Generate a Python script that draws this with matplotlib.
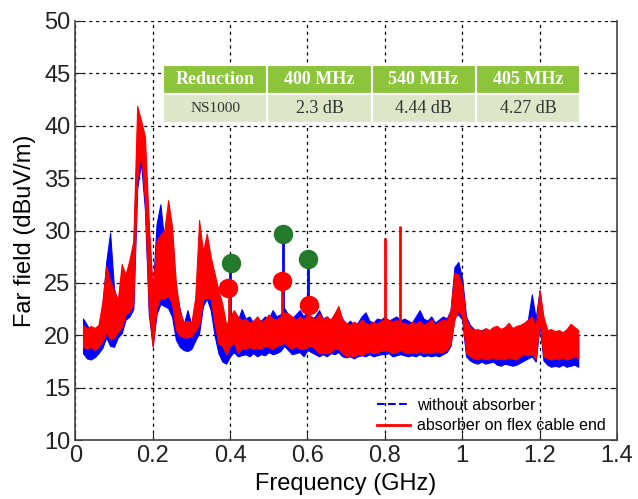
import numpy as np
import matplotlib
matplotlib.use('Agg')
import matplotlib.pyplot as plt
from matplotlib.lines import Line2D

plt.rcParams['font.family'] = ['Liberation Sans', 'DejaVu Sans']

# frequency grid (GHz) and envelopes (dBuV/m)
freq = np.round(np.arange(0.02, 1.3001, 0.01), 2)

red_lo = [18.9, 18.7, 18.9, 18.6, 18.9, 19.4, 20.3, 19.6, 19.8, 20.3,
          20.8, 22.0, 22.3, 23.0, 35.0, 37.4, 32.8, 22.6, 18.9, 22.6,
          23.6, 23.5, 23.8, 23.0, 20.5, 20.0, 19.8, 19.8, 19.9, 20.4,
          21.0, 23.4, 23.6, 23.5, 21.1, 19.2, 19.0, 18.2, 19.0, 19.3,
          18.3, 18.7, 18.7, 18.9, 18.7, 18.8, 18.7, 19.0, 18.9, 18.7,
          19.0, 19.1, 19.3, 19.0, 18.7, 19.0, 18.7, 18.7, 18.9, 19.0,
          18.7, 18.3, 18.3, 18.3, 18.4, 18.7, 18.7, 18.3, 18.0, 18.1,
          18.0, 18.2, 18.1, 18.3, 18.5, 18.3, 18.4, 18.5, 18.6, 18.5,
          18.3, 18.4, 18.6, 18.4, 18.3, 18.4, 18.3, 18.5, 18.3, 18.4,
          18.3, 18.5, 18.4, 18.4, 18.6, 19.2, 21.5, 22.4, 21.8, 18.3,
          18.0, 17.8, 17.7, 17.9, 17.7, 17.8, 17.9, 17.7, 17.8, 17.7,
          17.9, 17.8, 17.7, 18.0, 18.2, 18.1, 18.3, 17.7, 21.5, 18.0,
          17.8, 17.7, 17.8, 17.7, 17.9, 17.7, 17.8, 18.0, 17.8]
red_hi = [21.0, 20.6, 20.9, 20.7, 21.0, 23.2, 26.6, 25.2, 24.3, 23.4,
          26.8, 25.8, 27.2, 29.0, 41.9, 40.5, 39.0, 30.6, 24.3, 29.0,
          29.6, 30.0, 32.9, 30.4, 25.0, 22.2, 21.3, 21.4, 21.2, 23.6,
          31.0, 28.0, 29.7, 27.5, 25.9, 24.3, 23.0, 21.0, 21.8, 22.4,
          21.8, 21.4, 21.6, 21.2, 21.4, 21.8, 21.3, 21.5, 22.0, 21.6,
          21.5, 21.8, 22.2, 22.1, 21.8, 21.5, 21.8, 21.5, 22.0, 21.8,
          21.5, 22.1, 21.5, 21.8, 21.5, 22.1, 22.8, 21.5, 21.2, 21.0,
          21.3, 21.1, 21.5, 21.2, 21.0, 21.3, 21.1, 21.4, 21.5, 21.5,
          21.3, 21.5, 21.2, 21.2, 21.0, 21.3, 21.1, 21.4, 21.0, 21.2,
          21.5, 21.0, 21.3, 21.5, 21.4, 22.4, 26.0, 25.8, 24.7, 21.5,
          20.8, 20.5, 20.6, 20.4, 20.7, 20.5, 20.8, 20.9, 20.6, 20.8,
          21.2, 20.7, 20.9, 21.0, 21.2, 21.5, 21.8, 20.8, 24.3, 21.8,
          20.5, 20.6, 20.4, 20.5, 20.3, 20.6, 21.1, 20.8, 20.5]
blue_lo = [18.3, 17.8, 17.7, 17.9, 18.3, 18.8, 19.8, 19.0, 18.9, 19.8,
           20.2, 21.5, 21.8, 22.5, 34.0, 36.5, 32.0, 22.0, 19.0, 22.0,
           23.0, 22.8, 22.6, 21.8, 19.6, 18.9, 18.6, 18.5, 18.7, 19.5,
           20.2, 22.8, 23.5, 22.4, 20.0, 18.3, 17.5, 17.3, 18.0, 18.4,
           18.0, 18.1, 18.2, 18.0, 18.3, 18.0, 18.2, 18.1, 18.4, 18.2,
           18.3, 18.5, 19.0, 18.6, 18.2, 18.3, 18.4, 18.0, 18.6, 18.4,
           18.2, 18.0, 18.2, 18.0, 18.3, 18.2, 18.4, 18.0, 17.9, 18.0,
           17.8, 18.0, 18.1, 18.0, 18.2, 18.0, 18.1, 18.2, 18.2, 18.3,
           18.0, 18.1, 18.2, 18.1, 18.0, 18.1, 18.0, 18.2, 18.0, 18.1,
           18.0, 18.1, 18.0, 18.2, 18.4, 19.0, 21.8, 22.0, 21.5, 18.0,
           17.6, 17.4, 17.3, 17.5, 17.3, 17.4, 17.5, 17.2, 17.1, 17.3,
           17.2, 17.1, 17.2, 17.4, 17.6, 17.8, 18.0, 17.5, 21.0, 17.6,
           17.2, 17.0, 17.1, 17.0, 17.2, 17.0, 17.1, 17.2, 17.0]
blue_hi = [21.6, 21.0, 20.4, 20.6, 20.5, 22.8, 27.0, 29.8, 24.5, 23.0,
           26.2, 25.5, 26.8, 28.5, 38.8, 38.5, 37.0, 30.0, 24.0, 30.6,
           32.5, 29.0, 29.5, 28.5, 24.4, 22.5, 21.0, 22.4, 21.0, 22.6,
           27.0, 26.0, 28.6, 25.5, 24.0, 23.6, 22.4, 20.6, 22.0, 22.0,
           21.4, 22.5, 21.6, 21.8, 21.2, 21.6, 21.4, 21.8, 21.6, 22.4,
           21.8, 22.0, 22.6, 22.0, 21.6, 22.0, 22.4, 21.8, 22.4, 21.6,
           21.8, 22.4, 21.6, 21.8, 21.4, 22.0, 22.4, 21.6, 21.0, 21.4,
           21.0, 21.2, 21.8, 22.2, 21.4, 21.2, 21.6, 21.5, 21.8, 21.4,
           21.6, 21.8, 21.4, 21.6, 21.4, 21.2, 21.8, 22.4, 21.6, 21.4,
           21.8, 21.2, 21.5, 21.8, 21.6, 22.4, 26.5, 27.0, 25.4, 21.8,
           21.0, 20.6, 20.4, 20.5, 20.6, 20.3, 20.5, 20.6, 20.4, 20.5,
           20.8, 20.6, 20.4, 20.8, 21.0, 21.5, 23.9, 21.6, 24.3, 21.4,
           20.4, 19.9, 20.0, 19.8, 19.9, 20.1, 20.0, 20.2, 19.8]

# narrow spikes
blue_spike_f = [0.400, 0.537, 0.601]
blue_spike_top = [26.9, 29.7, 27.3]
red_spike_f = [0.397, 0.535, 0.603, 0.800, 0.840]
red_spike_top = [24.5, 25.2, 22.9, 29.3, 30.4]

# marker circles (without / with absorber)
green_f = [0.403, 0.537, 0.602]
green_db = [26.9, 29.7, 27.3]
redc_f = [0.395, 0.535, 0.604]
redc_db = [24.5, 25.2, 22.9]

col_labels = ['Reduction', '400 MHz', '540 MHz', '405 MHz']
row_values = ['NS1000', '2.3 dB', '4.44 dB', '4.27 dB']

fig = plt.figure(figsize=(6.38, 4.99), dpi=100)
ax = fig.add_axes([0.118, 0.118, 0.849, 0.84])

ax.fill_between(freq, blue_lo, blue_hi, color='#0000ff', lw=0.8, zorder=2)
ax.vlines(blue_spike_f, 21.0, blue_spike_top, color='#0000ff', lw=2, zorder=2)
ax.fill_between(freq, red_lo, red_hi, color='#ff0000', lw=0.8, zorder=3)
ax.vlines(red_spike_f, 20.0, red_spike_top, color='#ff0000', lw=2, zorder=3)

ax.plot(green_f, green_db, 'o', color='#237a2b', ms=13, zorder=4)
ax.plot(redc_f, redc_db, 'o', color='#ff0000', ms=13, zorder=4)

ax.set_xlim(0, 1.4)
ax.set_ylim(10, 50)
ax.set_xticks(np.arange(0, 1.41, 0.2))
ax.set_xticklabels(['0', '0.2', '0.4', '0.6', '0.8', '1', '1.2', '1.4'])
ax.set_yticks(np.arange(10, 51, 5))
ax.grid(True, color='black', linestyle=(0, (2.5, 3)), lw=0.9)
ax.set_axisbelow(True)
ax.tick_params(direction='in', labelsize=17, length=5, colors='#222222',
               right=True)
ax.spines['top'].set_visible(False)
for s in ['left', 'bottom', 'right']:
    ax.spines[s].set_color('#444444')
    ax.spines[s].set_linewidth(1.2)

ax.set_xlabel('Frequency (GHz)', fontsize=17, labelpad=4)
ax.set_ylabel('Far field (dBuV/m)', fontsize=17, labelpad=6)

handles = [Line2D([], [], color='#0000ff', ls='--', lw=1.5),
           Line2D([], [], color='#ff0000', ls='-', lw=2)]
ax.legend(handles, ['without absorber', 'absorber on flex cable end'],
          loc='lower left', bbox_to_anchor=(0.53, -0.018), frameon=False,
          fontsize=11.5, handlelength=2.1, handletextpad=0.4,
          labelspacing=0.35)

tab = ax.table(cellText=[row_values], colLabels=col_labels,
               cellLoc='center', bbox=[0.162, 0.757, 0.77, 0.138], zorder=5)
for (r, c), cell in tab.get_celld().items():
    cell.set_edgecolor('white')
    cell.set_linewidth(1.5)
    txt = cell.get_text()
    txt.set_fontfamily('Liberation Serif')
    if r == 0:
        cell.set_facecolor('#8cc43c')
        txt.set_color('white')
        txt.set_fontweight('bold')
        txt.set_fontsize(13)
    else:
        cell.set_facecolor('#dde7c8')
        txt.set_color('#333333')
        txt.set_fontsize(11 if c == 0 else 13)
tab.auto_set_font_size(False)

fig.savefig('out.png', dpi=100)
